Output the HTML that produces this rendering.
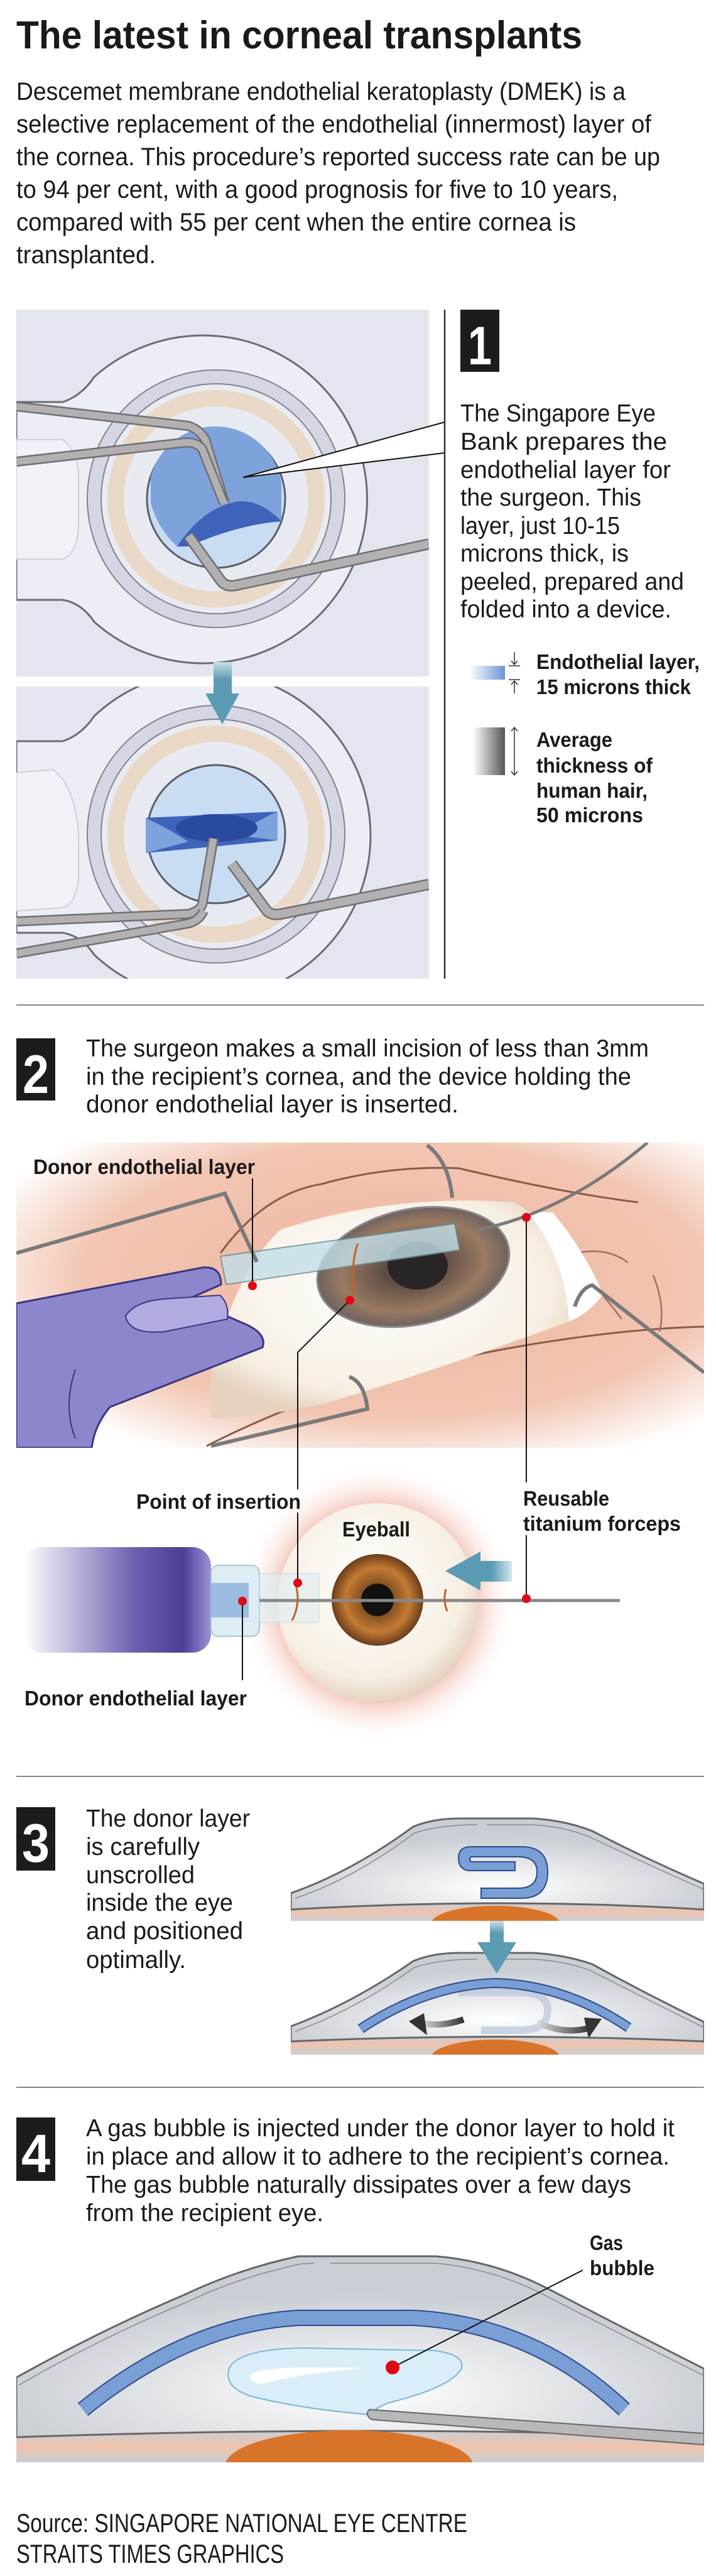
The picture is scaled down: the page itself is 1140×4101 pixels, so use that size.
<!DOCTYPE html>
<html><head><meta charset="utf-8"><style>
html,body{margin:0;padding:0;background:#fff}
svg{display:block}
text{font-family:"Liberation Sans",sans-serif;fill:#1a1a1a}
.b{font-weight:bold}
</style></head><body>
<svg width="1140" height="4101" viewBox="0 0 1140 4101" xmlns="http://www.w3.org/2000/svg">
<defs>
<radialGradient id="pink" cx="0.55" cy="0.45" r="0.65"><stop offset="0" stop-color="#eeb59e"/><stop offset="0.7" stop-color="#f2c6b3"/><stop offset="1" stop-color="#fff"/></radialGradient>
<radialGradient id="glow" cx="0.5" cy="0.5" r="0.5"><stop offset="0.6" stop-color="#ee9f8a"/><stop offset="1" stop-color="#fff" stop-opacity="0"/></radialGradient>
<radialGradient id="ball" cx="0.45" cy="0.4" r="0.6"><stop offset="0" stop-color="#fff"/><stop offset="0.8" stop-color="#f6efe2"/><stop offset="1" stop-color="#e6d2bf"/></radialGradient>
<radialGradient id="iris" cx="0.5" cy="0.5" r="0.5"><stop offset="0.3" stop-color="#7a4a20"/><stop offset="0.7" stop-color="#c47a33"/><stop offset="1" stop-color="#6a3d1c"/></radialGradient>
<radialGradient id="iris2" cx="0.5" cy="0.5" r="0.5"><stop offset="0.3" stop-color="#5f4d44"/><stop offset="0.75" stop-color="#9a7a62"/><stop offset="1" stop-color="#6e625e"/></radialGradient>
<linearGradient id="syr" x1="0" x2="1"><stop offset="0" stop-color="#fff"/><stop offset="0.6" stop-color="#6a5fb0"/><stop offset="0.85" stop-color="#4a3f98"/><stop offset="1" stop-color="#9c93d6"/></linearGradient>
<radialGradient id="dome" cx="0.5" cy="0.75" r="0.55"><stop offset="0" stop-color="#fff"/><stop offset="1" stop-color="#c9ced4"/></radialGradient>
<linearGradient id="band" x1="0" y1="0" x2="0" y2="1"><stop offset="0" stop-color="#c9ced4"/><stop offset="0.5" stop-color="#f0c3ac"/><stop offset="1" stop-color="#c9ced4"/></linearGradient>
<linearGradient id="arrowg" x1="0" y1="0" x2="0" y2="1"><stop offset="0" stop-color="#c8dfe8"/><stop offset="0.5" stop-color="#5b9bb3"/></linearGradient>
<linearGradient id="arrowh" x1="1" y1="0" x2="0" y2="0"><stop offset="0" stop-color="#d4e6ee"/><stop offset="0.5" stop-color="#5b9bb3"/></linearGradient>
<linearGradient id="blueleg" x1="0" x2="1"><stop offset="0" stop-color="#fff"/><stop offset="1" stop-color="#6d95d6"/></linearGradient>
<linearGradient id="grayleg" x1="0" x2="1"><stop offset="0" stop-color="#fff"/><stop offset="1" stop-color="#555"/></linearGradient>
<linearGradient id="darkarr2" x1="1" x2="0"><stop offset="0" stop-color="#333"/><stop offset="1" stop-color="#ddd"/></linearGradient>
<clipPath id="c1"><rect x="26" y="493" width="657" height="584"/></clipPath>
<clipPath id="c2"><rect x="26" y="1093" width="657" height="465"/></clipPath>
<clipPath id="c3"><rect x="26" y="1819" width="1095" height="486"/></clipPath>
<clipPath id="c4"><rect x="463" y="2880" width="658" height="178"/></clipPath>
<clipPath id="c5"><rect x="463" y="3100" width="658" height="171"/></clipPath>
<clipPath id="c6"><rect x="26" y="3570" width="1095" height="350"/></clipPath>
</defs>

<text x="26" y="77" class="b" font-size="62" textLength="901" lengthAdjust="spacingAndGlyphs">The latest in corneal transplants</text>
<g font-size="40">
<text x="26" y="159" textLength="970" lengthAdjust="spacingAndGlyphs">Descemet membrane endothelial keratoplasty (DMEK) is a</text>
<text x="26" y="211" textLength="1011" lengthAdjust="spacingAndGlyphs">selective replacement of the endothelial (innermost) layer of</text>
<text x="26" y="263" textLength="1025" lengthAdjust="spacingAndGlyphs">the cornea. This procedure’s reported success rate can be up</text>
<text x="26" y="315" textLength="958" lengthAdjust="spacingAndGlyphs">to 94 per cent, with a good prognosis for five to 10 years,</text>
<text x="26" y="367" textLength="891" lengthAdjust="spacingAndGlyphs">compared with 55 per cent when the entire cornea is</text>
<text x="26" y="419" textLength="222" lengthAdjust="spacingAndGlyphs">transplanted.</text>
</g>

<g clip-path="url(#c1)">
<rect x="26" y="493" width="657" height="584" fill="#e4e6ef"/>
<path d="M26,640 L100,640 Q130,630 150,600 A261,261 0 1 1 150,990 Q130,960 100,955 L26,955 Z" fill="#eceef5" stroke="#6a6c74" stroke-width="3"/>
<path d="M26,700 L100,700 Q125,720 125,760 L125,830 Q125,880 100,890 L26,890 Z" fill="#f1f2f7" stroke="#cdd0da" stroke-width="2"/>
<circle cx="344" cy="794" r="205" fill="#d4d7e3" stroke="#80838f" stroke-width="2"/>
<circle cx="344" cy="794" r="183" fill="#e9ebf2" stroke="#80838f" stroke-width="2"/>
<circle cx="344" cy="794" r="160" fill="none" stroke="#ead9c7" stroke-width="26"/>
<circle cx="344" cy="794" r="140" fill="#e8eaf1"/>
<circle cx="344" cy="794" r="110" fill="#c8dcf3" stroke="#5a5d66" stroke-width="3"/>
<path d="M240,760 A106,106 0 0 1 448,770 L448,830 Q410,790 370,800 Q320,812 282,870 Q250,840 240,800 Z" fill="#7ea3dc"/>
<path d="M282,870 Q320,812 370,800 Q410,790 448,830 Q380,835 300,870 Z" fill="#3f63b8"/>
<path d="M26,647 L300,678 Q318,684 327,700 L358,802" fill="none" stroke="#6f6f73" stroke-width="16" stroke-linejoin="round"/>
<path d="M26,647 L300,678 Q318,684 327,700 L358,802" fill="none" stroke="#b2b0b0" stroke-width="11" stroke-linejoin="round"/>
<path d="M26,735 L290,705 Q312,702 322,715 L356,800" fill="none" stroke="#6f6f73" stroke-width="16" stroke-linejoin="round"/>
<path d="M26,735 L290,705 Q312,702 322,715 L356,800" fill="none" stroke="#b2b0b0" stroke-width="11" stroke-linejoin="round"/>
<path d="M300,853 L352,925 Q360,935 375,932 L683,866" fill="none" stroke="#6f6f73" stroke-width="18" stroke-linejoin="round"/>
<path d="M300,853 L352,925 Q360,935 375,932 L683,866" fill="none" stroke="#b2b0b0" stroke-width="13" stroke-linejoin="round"/>
</g>
<g clip-path="url(#c2)">
<rect x="26" y="1093" width="657" height="465" fill="#e4e6ef"/>
<path d="M26,1180 L100,1180 Q130,1170 150,1140 A261,261 0 1 1 150,1520 Q130,1490 100,1485 L26,1485 Z" fill="#eceef5" stroke="#6a6c74" stroke-width="3"/>
<path d="M26,1230 L85,1225 L100,1240 Q125,1280 125,1340 L125,1400 Q120,1440 100,1445 L26,1450 Z" fill="#f1f2f7" stroke="#cdd0da" stroke-width="2"/>
<circle cx="344" cy="1328" r="205" fill="#d4d7e3" stroke="#80838f" stroke-width="2"/>
<circle cx="344" cy="1328" r="183" fill="#e9ebf2" stroke="#80838f" stroke-width="2"/>
<circle cx="344" cy="1328" r="160" fill="none" stroke="#ead9c7" stroke-width="26"/>
<circle cx="344" cy="1328" r="140" fill="#e8eaf1"/>
<circle cx="344" cy="1328" r="110" fill="#c8dcf3" stroke="#5a5d66" stroke-width="3"/>
<path d="M232,1302 L442,1292 L442,1338 L232,1358 Z" fill="#3f63b8"/>
<path d="M232,1302 Q270,1320 300,1340 L232,1358 Z" fill="#7ea3dc"/>
<path d="M442,1292 Q400,1310 380,1330 L442,1338 Z" fill="#7ea3dc"/>
<ellipse cx="345" cy="1318" rx="65" ry="22" fill="#2a4aa0"/>
<path d="M26,1467 L300,1455 Q318,1450 322,1440 L340,1335" fill="none" stroke="#6f6f73" stroke-width="16" stroke-linejoin="round"/>
<path d="M26,1467 L300,1455 Q318,1450 322,1440 L340,1335" fill="none" stroke="#b2b0b0" stroke-width="11" stroke-linejoin="round"/>
<path d="M26,1518 L300,1470 Q318,1465 324,1450" fill="none" stroke="#6f6f73" stroke-width="16" stroke-linejoin="round"/>
<path d="M26,1518 L300,1470 Q318,1465 324,1450" fill="none" stroke="#b2b0b0" stroke-width="11" stroke-linejoin="round"/>
<path d="M369,1375 L425,1450 Q433,1458 448,1455 L683,1408" fill="none" stroke="#6f6f73" stroke-width="18" stroke-linejoin="round"/>
<path d="M369,1375 L425,1450 Q433,1458 448,1455 L683,1408" fill="none" stroke="#b2b0b0" stroke-width="13" stroke-linejoin="round"/>
</g>
<rect x="340" y="1054" width="29" height="55" fill="url(#arrowg)"/>
<path d="M327,1104 L381,1104 L354,1153 Z" fill="#5b9bb3"/>
<path d="M387,760 L708,672 L708,721 Z" fill="#fff"/>
<path d="M708,672 L387,760 L708,721" fill="none" stroke="#111" stroke-width="2"/>
<line x1="708" y1="493" x2="708" y2="1558" stroke="#333" stroke-width="2.5"/>

<rect x="733" y="493" width="62" height="99" fill="#1c1c1c"/>
<text x="745" y="580" class="b" font-size="86" style="fill:#fff" textLength="38" lengthAdjust="spacingAndGlyphs">1</text>
<g font-size="39">
<text x="733" y="671" textLength="311" lengthAdjust="spacingAndGlyphs">The Singapore Eye</text>
<text x="733" y="716" textLength="329" lengthAdjust="spacingAndGlyphs">Bank prepares the</text>
<text x="733" y="761" textLength="335" lengthAdjust="spacingAndGlyphs">endothelial layer for</text>
<text x="733" y="805" textLength="288" lengthAdjust="spacingAndGlyphs">the surgeon. This</text>
<text x="733" y="850" textLength="254" lengthAdjust="spacingAndGlyphs">layer, just 10-15</text>
<text x="733" y="894" textLength="268" lengthAdjust="spacingAndGlyphs">microns thick, is</text>
<text x="733" y="939" textLength="356" lengthAdjust="spacingAndGlyphs">peeled, prepared and</text>
<text x="733" y="983" textLength="336" lengthAdjust="spacingAndGlyphs">folded into a device.</text>
</g>
<rect x="747" y="1060" width="57" height="22" fill="url(#blueleg)"/>
<g stroke="#333" stroke-width="1.5" fill="none">
<line x1="819" y1="1038" x2="819" y2="1058"/><path d="M814,1052 L819,1058 L824,1052"/><line x1="810" y1="1060" x2="828" y2="1060"/>
<line x1="810" y1="1082" x2="828" y2="1082"/><line x1="819" y1="1084" x2="819" y2="1104"/><path d="M814,1090 L819,1084 L824,1090"/>
<line x1="819" y1="1158" x2="819" y2="1234"/><path d="M814,1164 L819,1158 L824,1164"/><path d="M814,1228 L819,1234 L824,1228"/>
</g>
<rect x="753" y="1158" width="51" height="76" fill="url(#grayleg)"/>
<g font-size="33">
<text x="854" y="1065" class="b" textLength="260" lengthAdjust="spacingAndGlyphs">Endothelial layer,</text>
<text x="854" y="1105" class="b" textLength="246" lengthAdjust="spacingAndGlyphs">15 microns thick</text>
<text x="854" y="1189" class="b" textLength="121" lengthAdjust="spacingAndGlyphs">Average</text>
<text x="854" y="1230" class="b" textLength="185" lengthAdjust="spacingAndGlyphs">thickness of</text>
<text x="854" y="1270" class="b" textLength="177" lengthAdjust="spacingAndGlyphs">human hair,</text>
<text x="854" y="1309" class="b" textLength="170" lengthAdjust="spacingAndGlyphs">50 microns</text>
</g>

<line x1="26" y1="1600" x2="1121" y2="1600" stroke="#888" stroke-width="2"/>

<rect x="26" y="1653" width="62" height="99" fill="#1c1c1c"/>
<text x="36" y="1740" class="b" font-size="86" style="fill:#fff" textLength="42" lengthAdjust="spacingAndGlyphs">2</text>
<g font-size="39">
<text x="137" y="1682" textLength="896" lengthAdjust="spacingAndGlyphs">The surgeon makes a small incision of less than 3mm</text>
<text x="137" y="1727" textLength="868" lengthAdjust="spacingAndGlyphs">in the recipient’s cornea, and the device holding the</text>
<text x="137" y="1771" textLength="593" lengthAdjust="spacingAndGlyphs">donor endothelial layer is inserted.</text>
</g>
<g clip-path="url(#c3)">
<rect x="26" y="1819" width="1095" height="486" fill="url(#pink)"/>
<path d="M351,1995 Q420,1900 512,1885 Q620,1855 731,1860 Q900,1900 1016,1914" fill="none" stroke="#8a5a4a" stroke-width="3"/>
<path d="M329,2302 Q450,2240 585,2199 Q700,2165 841,2141 Q1000,2115 1121,2112" fill="none" stroke="#8a5a4a" stroke-width="3"/>
<path d="M900,2000 Q960,1980 1000,2010 M930,2030 Q960,2060 990,2100 M1040,2030 Q1060,2080 1050,2120" fill="none" stroke="#a07060" stroke-width="2.5"/>
<path d="M446,1958 Q620,1900 819,1914 Q900,1960 921,2053 Q915,2085 906,2104 Q700,2180 512,2236 Q420,2255 336,2258 Q330,2200 344,2155 Q380,2020 446,1958 Z" fill="url(#ball)"/>
<path d="M840,1930 Q900,2000 906,2104 Q940,2090 960,2060 Q930,1990 880,1930 Z" fill="#fff"/>
<ellipse cx="658" cy="2017" rx="155" ry="92" transform="rotate(-12 658 2017)" fill="url(#iris2)" stroke="#8a8a90" stroke-width="3"/>
<ellipse cx="665" cy="2015" rx="48" ry="38" fill="#2a2525"/>
<path d="M351,2000 L724,1948 L732,1990 L360,2045 Z" fill="#c2dfe8" opacity="0.8" stroke="#6a8a95" stroke-width="2"/>
<path d="M570,1980 Q560,2000 562,2060" fill="none" stroke="#c0602a" stroke-width="3"/>
<path d="M26,2075 L322,2018 Q352,2015 352,2045 L300,2068 L395,2110 Q425,2125 418,2145 L175,2240 Q150,2270 146,2305 L26,2305 Z" fill="#8c86cd" stroke="#3a3580" stroke-width="3"/>
<path d="M200,2095 Q215,2072 260,2068 L350,2062 Q365,2075 362,2100 L262,2120 Q205,2125 200,2095 Z" fill="#b0abe0" stroke="#3a3580" stroke-width="2"/>
<path d="M120,2180 Q100,2240 120,2290" fill="none" stroke="#3a3580" stroke-width="2"/>
<path d="M26,1995 L358,1900 L409,2009" fill="none" stroke="#7a7a7a" stroke-width="6"/>
<path d="M680,1823 Q715,1850 720,1907" fill="none" stroke="#7a7a7a" stroke-width="6"/>
<path d="M1031,1819 Q900,1930 760,1958" fill="none" stroke="#7a7a7a" stroke-width="5"/>
<path d="M1121,2185 L943,2046 Q925,2050 915,2080" fill="none" stroke="#7a7a7a" stroke-width="6"/>
<path d="M556,2192 Q580,2200 585,2243 L336,2302" fill="none" stroke="#7a7a7a" stroke-width="6"/>
</g>
<circle cx="601" cy="2552" r="222" fill="url(#glow)"/>
<circle cx="601" cy="2552" r="159" fill="url(#ball)"/>
<circle cx="601" cy="2547" r="73" fill="url(#iris)"/>
<circle cx="601" cy="2547" r="26" fill="#111"/>
<rect x="37" y="2463" width="299" height="168" rx="30" fill="url(#syr)"/>
<rect x="336" y="2492" width="77" height="113" rx="12" fill="#dceef3" stroke="#a9c8d2" stroke-width="2"/>
<rect x="336" y="2520" width="60" height="55" fill="#7fa8d8" opacity="0.7"/>
<rect x="413" y="2505" width="95" height="78" fill="#e2eef2" opacity="0.7" stroke="#bcd" stroke-width="1"/>
<line x1="413" y1="2548" x2="987" y2="2548" stroke="#888" stroke-width="5"/>
<path d="M470,2520 Q480,2550 465,2580 M710,2530 Q705,2548 712,2565" fill="none" stroke="#c0602a" stroke-width="3"/>
<rect x="750" y="2485" width="65" height="33" fill="url(#arrowh)"/>
<path d="M709,2501 L765,2470 L765,2532 Z" fill="#5b9bb3"/>
<g stroke="#111" stroke-width="2" fill="none">
<path d="M402,1876 L402,2047"/>
<path d="M557,2070 L474,2153 L474,2371"/>
<path d="M474,2408 L474,2520"/>
<path d="M838,1938 L838,2360"/>
<path d="M838,2444 L838,2545"/>
<path d="M386,2549 L386,2675"/>
</g>
<g fill="#e30613">
<circle cx="402" cy="2047" r="7"/><circle cx="557" cy="2070" r="7"/><circle cx="838" cy="1938" r="7"/>
<circle cx="474" cy="2520" r="7"/><circle cx="838" cy="2545" r="7"/><circle cx="386" cy="2549" r="7"/>
</g>
<g font-size="33">
<text x="53" y="1869" class="b" textLength="353" lengthAdjust="spacingAndGlyphs">Donor endothelial layer</text>
<text x="217" y="2402" class="b" textLength="262" lengthAdjust="spacingAndGlyphs">Point of insertion</text>
<text x="545" y="2446" class="b" textLength="108" lengthAdjust="spacingAndGlyphs">Eyeball</text>
<text x="833" y="2397" class="b" textLength="137" lengthAdjust="spacingAndGlyphs">Reusable</text>
<text x="833" y="2437" class="b" textLength="251" lengthAdjust="spacingAndGlyphs">titanium forceps</text>
<text x="39" y="2715" class="b" textLength="354" lengthAdjust="spacingAndGlyphs">Donor endothelial layer</text>
</g>

<line x1="26" y1="2828" x2="1121" y2="2828" stroke="#888" stroke-width="2"/>

<rect x="26" y="2877" width="62" height="101" fill="#1c1c1c"/>
<text x="35" y="2964" class="b" font-size="86" style="fill:#fff" textLength="44" lengthAdjust="spacingAndGlyphs">3</text>
<g font-size="39">
<text x="137" y="2908" textLength="261" lengthAdjust="spacingAndGlyphs">The donor layer</text>
<text x="137" y="2953" textLength="181" lengthAdjust="spacingAndGlyphs">is carefully</text>
<text x="137" y="2998" textLength="173" lengthAdjust="spacingAndGlyphs">unscrolled</text>
<text x="137" y="3042" textLength="234" lengthAdjust="spacingAndGlyphs">inside the eye</text>
<text x="137" y="3087" textLength="250" lengthAdjust="spacingAndGlyphs">and positioned</text>
<text x="137" y="3133" textLength="159" lengthAdjust="spacingAndGlyphs">optimally.</text>
</g>
<g clip-path="url(#c4)">
<rect x="463" y="3030" width="658" height="28" fill="url(#band)"/>
<path d="M463,3014 Q560,2980 658,2908 Q690,2895 731,2895 L848,2895 Q900,2898 943,2915 Q1030,2960 1121,2999 L1121,3040 Q800,3020 463,3040 Z" fill="url(#dome)" stroke="#666" stroke-width="3"/>
<path d="M470,3022 Q565,2990 660,2918 Q700,2905 760,2905 M775,2905 L848,2905 Q900,2908 940,2925 Q1030,2968 1121,3008" fill="none" stroke="#888" stroke-width="1.5"/>
<ellipse cx="789" cy="3062" rx="102" ry="28" fill="#d8752a"/>
<path d="M730,2958 Q730,2940 750,2940 L830,2940 Q872,2940 872,2980 Q872,3022 830,3022 L766,3022 L766,3006 L825,3006 Q855,3006 855,2980 Q855,2956 825,2956 L750,2956 Q746,2960 750,2964 L820,2964 L820,2978 L745,2978 Q730,2975 730,2958 Z" fill="#7a9ed6" stroke="#2e4a8a" stroke-width="2"/>
</g>
<g clip-path="url(#c5)">
<rect x="463" y="3240" width="658" height="31" fill="url(#band)"/>
<path d="M463,3226 Q560,3190 658,3122 Q690,3109 731,3109 L848,3109 Q900,3112 943,3127 Q1030,3175 1121,3219 L1121,3250 Q800,3235 463,3250 Z" fill="url(#dome)" stroke="#666" stroke-width="3"/>
<path d="M470,3234 Q565,3200 660,3132 Q700,3119 760,3119 M775,3119 L848,3119 Q900,3122 940,3137 Q1030,3183 1121,3228" fill="none" stroke="#888" stroke-width="1.5"/>
<ellipse cx="789" cy="3275" rx="102" ry="28" fill="#d8752a"/>
<path d="M730,3172 L830,3172 Q872,3172 872,3200 Q872,3232 830,3232 L766,3232" fill="none" stroke="#b9c6dc" stroke-width="12" opacity="0.7"/>
<path d="M574,3230 Q680,3160 789,3157 Q900,3160 1001,3228" fill="none" stroke="#2e4a8a" stroke-width="16"/>
<path d="M574,3230 Q680,3160 789,3157 Q900,3160 1001,3228" fill="none" stroke="#7a9ed6" stroke-width="12"/>
<path d="M738,3215 Q700,3228 670,3220" fill="none" stroke="url(#darkarr2)" stroke-width="10"/>
<path d="M651,3218 L675,3205 L680,3240 Z" fill="#333"/>
<path d="M855,3220 Q900,3240 940,3228" fill="none" stroke="url(#darkarr2)" stroke-width="10"/>
<path d="M958,3214 L930,3212 L937,3245 Z" fill="#333"/>
</g>
<rect x="780" y="3058" width="22" height="40" fill="url(#arrowg)"/>
<path d="M760,3092 L822,3092 L791,3142 Z" fill="#5b9bb3"/>

<line x1="26" y1="3323" x2="1121" y2="3323" stroke="#888" stroke-width="2"/>

<rect x="26" y="3371" width="62" height="101" fill="#1c1c1c"/>
<text x="34" y="3458" class="b" font-size="86" style="fill:#fff" textLength="46" lengthAdjust="spacingAndGlyphs">4</text>
<g font-size="39">
<text x="137" y="3401" textLength="937" lengthAdjust="spacingAndGlyphs">A gas bubble is injected under the donor layer to hold it</text>
<text x="137" y="3446" textLength="929" lengthAdjust="spacingAndGlyphs">in place and allow it to adhere to the recipient’s cornea.</text>
<text x="137" y="3491" textLength="868" lengthAdjust="spacingAndGlyphs">The gas bubble naturally dissipates over a few days</text>
<text x="137" y="3536" textLength="378" lengthAdjust="spacingAndGlyphs">from the recipient eye.</text>
</g>
<g clip-path="url(#c6)">
<rect x="26" y="3870" width="1095" height="50" fill="url(#band)"/>
<path d="M26,3785 Q160,3710 292,3654 Q380,3612 475,3592 L694,3592 Q790,3600 877,3646 Q1000,3710 1121,3771 L1121,3880 Q600,3860 26,3880 Z" fill="url(#dome)" stroke="#666" stroke-width="3"/>
<path d="M30,3797 Q160,3722 295,3666 Q380,3625 480,3604 L500,3603 M525,3603 L694,3603 Q790,3612 875,3658 Q1000,3722 1121,3782" fill="none" stroke="#888" stroke-width="1.5"/>
<ellipse cx="556" cy="3925" rx="197" ry="56" fill="#d8752a"/>
<path d="M132,3836 Q300,3700 475,3690 L658,3690 Q850,3700 994,3836" fill="none" stroke="#2e4a8a" stroke-width="26"/>
<path d="M132,3836 Q300,3700 475,3690 L658,3690 Q850,3700 994,3836" fill="none" stroke="#7a9ed6" stroke-width="22"/>
<path d="M588,3844 Q480,3835 400,3815 Q355,3800 365,3770 Q380,3740 480,3738 L690,3742 Q740,3748 735,3770 Q720,3800 620,3825 Q600,3832 588,3844 Z" fill="#d9eef8" stroke="#7cb5d5" stroke-width="2"/>
<path d="M400,3780 Q420,3765 580,3770 Q470,3780 420,3795 Q395,3795 400,3780 Z" fill="#fff"/>
<path d="M588,3836 L1121,3874 L1121,3892 L592,3852 Q580,3845 588,3836 Z" fill="#b8b8ba" stroke="#666" stroke-width="2"/>
</g>
<line x1="625" y1="3769" x2="928" y2="3614" stroke="#111" stroke-width="2"/>
<circle cx="625" cy="3769" r="11" fill="#e30613"/>
<text x="939" y="3582" class="b" font-size="33" textLength="53" lengthAdjust="spacingAndGlyphs">Gas</text>
<text x="939" y="3622" class="b" font-size="33" textLength="103" lengthAdjust="spacingAndGlyphs">bubble</text>

<text x="26" y="4031" font-size="42" textLength="718" lengthAdjust="spacingAndGlyphs">Source: SINGAPORE NATIONAL EYE CENTRE</text>
<text x="26" y="4080" font-size="42" textLength="426" lengthAdjust="spacingAndGlyphs">STRAITS TIMES GRAPHICS</text>
</svg>
</body></html>
